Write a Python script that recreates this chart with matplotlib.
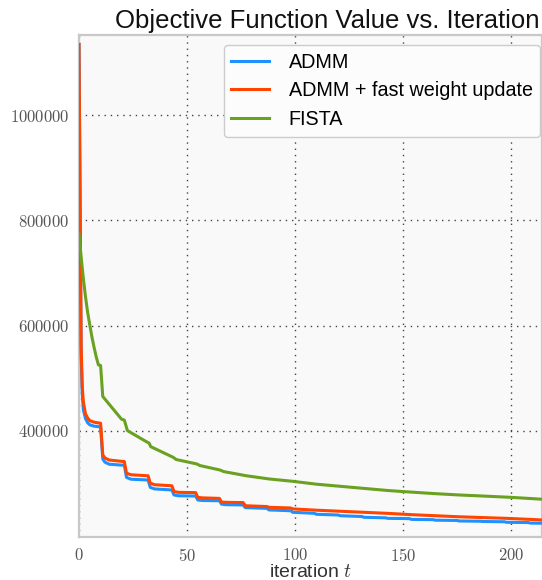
import matplotlib
matplotlib.use("Agg")
import matplotlib.pyplot as plt
from matplotlib.ticker import FuncFormatter

# values (iteration, objective value)
admm_t = [0, 1, 1.5, 2, 3, 4, 5, 7, 10, 11, 12, 14, 21, 22, 24, 32, 33, 35, 43,
          44, 46, 54, 55, 57, 65, 66, 68, 76, 77, 87, 88, 98, 99, 109, 110, 120,
          121, 131, 132, 142, 143, 153, 154, 164, 165, 175, 176, 186, 187, 197,
          198, 208, 209, 214]
admm_val = [1135000, 540000, 470000, 440000, 423000, 415000, 411000, 408500, 407000,
            346000, 340000, 336000, 334000, 311000, 307500, 306000, 292000, 289000,
            287000, 277500, 276000, 275500, 268000, 267000, 266500, 260000, 259000,
            258500, 253500, 252000, 249000, 247500, 244500, 242600, 240700, 239400,
            238000, 236500, 235000, 234000, 233000, 232500, 231000, 230500, 229500,
            229000, 228000, 227500, 227000, 226500, 225500, 225000, 224000, 223800]

fast_t = [0, 1, 1.5, 2, 3, 4, 5, 7, 10, 11, 12, 14, 21, 22, 24, 32, 33, 35, 43,
          44, 46, 54, 55, 57, 65, 66, 68, 76, 77, 87, 88, 98, 99, 110, 121, 132,
          143, 154, 165, 176, 187, 198, 209, 214]
fast_val = [1135000, 560000, 484000, 455000, 432000, 424000, 419000, 416000, 414000,
            354000, 348000, 344000, 341000, 319000, 316000, 314000, 300000, 297000,
            295000, 284000, 282500, 282000, 273000, 272000, 271000, 264000, 263500,
            263000, 257000, 255500, 254000, 252800, 251000, 248500, 246500, 244500,
            242500, 240000, 238000, 236000, 234500, 233000, 231000, 230000]

fista_t = [0, 1, 2, 3, 4, 5, 6, 7, 8, 9, 10, 11, 19.7, 21, 22.4, 31.6, 32.5, 33.2,
           43.7, 45, 54.5, 56, 65.3, 67, 77.6, 88, 99, 110, 121, 132, 143, 150,
           165, 176, 187, 200, 214]
fista_val = [775000, 730000, 690000, 655000, 625000, 601000, 578000, 558000, 540000,
             525000, 524000, 465000, 421700, 420000, 400000, 378000, 376000, 369500,
             349000, 345000, 336600, 333500, 325000, 322000, 314000, 308000, 303500,
             298000, 294000, 290000, 286000, 284000, 280000, 277500, 275500, 273000,
             269500]

y_ticks = [400000, 600000, 800000, 1000000]
x_ticks = [0, 50, 100, 150, 200]

plt.rcParams["font.family"] = ["Liberation Sans", "DejaVu Sans"]
plt.rcParams["mathtext.fontset"] = "cm"

fig = plt.figure(figsize=(5.42, 5.80), dpi=100)
ax = fig.add_axes([79 / 542, 43 / 580, 1 - 79 / 542, 502 / 580])
ax.set_facecolor("#f9f9f9")

ax.plot(admm_t, admm_val, color="#1e90ff", lw=2.2, label="ADMM", zorder=3)
ax.plot(fast_t, fast_val, color="#ff4500", lw=2.2, label="ADMM + fast weight update", zorder=3)
ax.plot(fista_t, fista_val, color="#6aa121", lw=2.2, label="FISTA", zorder=3)

ax.set_xlim(0, 214.4)
ax.set_ylim(197500, 1153000)
ax.set_xticks(x_ticks)
ax.set_yticks(y_ticks)
fmt = FuncFormatter(lambda v, p: r"$%d$" % v)
ax.xaxis.set_major_formatter(fmt)
ax.yaxis.set_major_formatter(fmt)
ax.tick_params(length=0, labelsize=12, labelcolor="#555555")
ax.tick_params(axis="x", pad=7)
ax.tick_params(axis="y", pad=7)

ax.grid(True, linestyle=(0, (1, 3.5)), color="#444444", lw=1.0, zorder=1)
for s in ax.spines.values():
    s.set_color("#c8c8c8")
    s.set_linewidth(1.6)

ax.set_title("Objective Function Value vs. Iteration", fontsize=18.5,
             x=0.5356, pad=5, color="#111111")
ax.set_xlabel(r"iteration $t$", fontsize=14, color="#333333", labelpad=0)

leg = ax.legend(loc="upper right", bbox_to_anchor=(0.9957, 0.980), borderaxespad=0,
                fontsize=14.2, frameon=True, fancybox=True, handlelength=1.9,
                handletextpad=1.0, labelspacing=0.5, borderpad=0.38)
leg.get_frame().set_facecolor("#fcfcfc")
leg.get_frame().set_edgecolor("#cccccc")
leg.get_frame().set_alpha(1.0)

fig.savefig("out.png", dpi=100)
